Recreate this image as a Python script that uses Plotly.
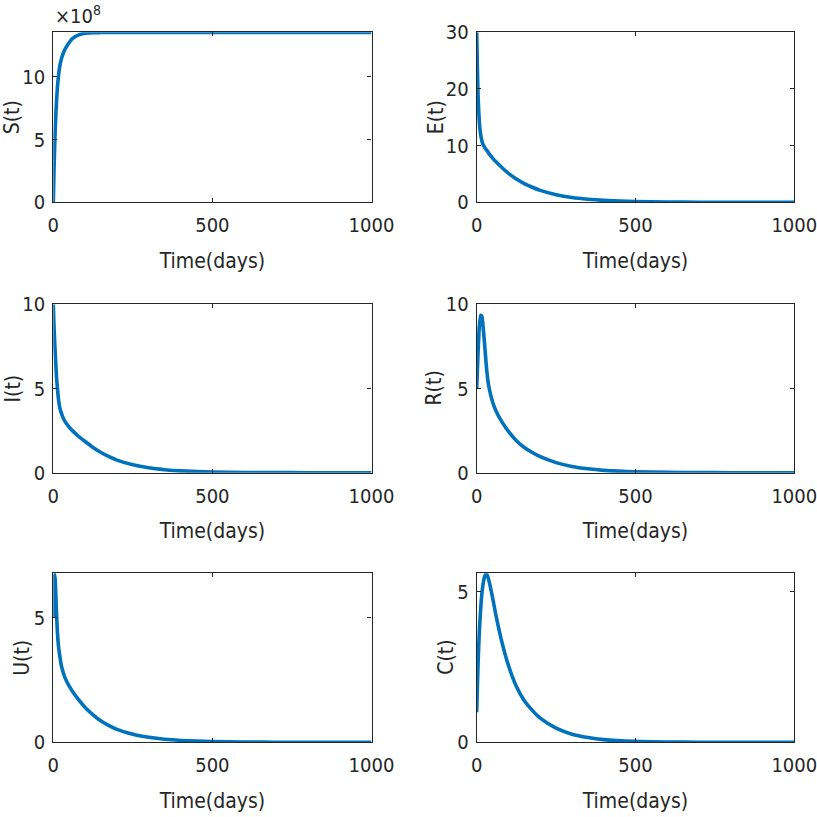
import plotly.graph_objects as go

# time points (days)
T_DAYS = [0, 2, 4, 6, 8, 10, 13, 16, 20, 25, 30, 35, 40, 50, 60, 80, 100,
          125, 150, 175, 200, 250, 300, 350, 400, 500, 600, 700, 800, 900, 1000]

S_VALS = [0, 2.2e8, 4.2e8, 5.8e8, 7.0e8, 8.0e8, 9.2e8, 10.0e8, 10.8e8, 11.4e8,
          11.8e8, 12.1e8, 12.35e8, 12.75e8, 13.05e8, 13.35e8, 13.48e8, 13.53e8,
          13.54e8, 13.55e8, 13.55e8, 13.55e8, 13.55e8, 13.55e8, 13.55e8, 13.55e8,
          13.55e8, 13.55e8, 13.55e8, 13.55e8, 13.55e8]
E_VALS = [30, 24, 19.5, 16.5, 14.5, 13.0, 11.8, 10.9, 10.2, 9.7, 9.3, 8.9, 8.5,
          7.8, 7.2, 6.1, 5.1, 4.1, 3.3, 2.65, 2.1, 1.35, 0.85, 0.54, 0.34, 0.13,
          0.05, 0.02, 0.01, 0.0, 0.0]
I_VALS = [10, 8.8, 7.9, 7.1, 6.4, 5.7, 5.0, 4.4, 3.9, 3.55, 3.3, 3.1, 2.95, 2.7,
          2.5, 2.15, 1.85, 1.5, 1.2, 0.95, 0.75, 0.47, 0.29, 0.18, 0.11, 0.04,
          0.015, 0.005, 0.0, 0.0, 0.0]
R_VALS = [5.0, 6.0, 7.0, 7.9, 8.6, 9.0, 9.35, 9.3, 8.7, 7.6, 6.4, 5.5, 4.95, 4.2,
          3.7, 3.0, 2.45, 1.9, 1.5, 1.2, 0.95, 0.6, 0.37, 0.23, 0.14, 0.05, 0.02,
          0.008, 0.0, 0.0, 0.0]
U_VALS = [5.0, 6.3, 6.75, 6.5, 5.9, 5.2, 4.4, 3.9, 3.5, 3.1, 2.85, 2.65, 2.5,
          2.25, 2.05, 1.7, 1.4, 1.1, 0.85, 0.67, 0.52, 0.32, 0.2, 0.12, 0.075,
          0.028, 0.01, 0.004, 0.0, 0.0, 0.0]
C_VALS = [1.0, 1.8, 2.5, 3.1, 3.6, 4.0, 4.5, 4.9, 5.25, 5.5, 5.6, 5.5, 5.3, 4.8,
          4.25, 3.3, 2.55, 1.85, 1.38, 1.06, 0.8, 0.47, 0.27, 0.16, 0.09, 0.03,
          0.01, 0.004, 0.0, 0.0, 0.0]

X_TICKS = [0, 500, 1000]

# label, values, y tick values, y tick labels, y range
PANELS = [
    ("S(t)", S_VALS, [0, 5e8, 10e8], ["0", "5", "10"], [0, 13.56e8]),
    ("E(t)", E_VALS, [0, 10, 20, 30], ["0", "10", "20", "30"], [0, 30]),
    ("I(t)", I_VALS, [0, 5, 10], ["0", "5", "10"], [0, 10]),
    ("R(t)", R_VALS, [0, 5, 10], ["0", "5", "10"], [0, 10]),
    ("U(t)", U_VALS, [0, 5], ["0", "5"], [0, 6.78]),
    ("C(t)", C_VALS, [0, 5], ["0", "5"], [0, 5.61]),
]

W = H = 817
COL_X = [(53.3, 371.5), (476.7, 794.3)]
ROW_Y = [(32.3, 202.3), (304.3, 472.7), (573.3, 742.3)]
# horizontal centre (px) of each rotated y label, MATLAB puts them by tick width
YLABEL_X = [12, 436, 12, 433, 22, 446]

FONT = "Liberation Sans Narrow, Arial Narrow, DejaVu Sans Condensed, sans-serif"
INK = "#262626"
BLUE = "#0072BD"

fig = go.Figure()
layout = {}

for k, (label, vals, yt, ytt, yr) in enumerate(PANELS):
    row, col = divmod(k, 2)
    n = "" if k == 0 else str(k + 1)
    x0, x1 = COL_X[col]
    ytop, ybot = ROW_Y[row]

    fig.add_trace(go.Scatter(
        x=T_DAYS, y=vals, mode="lines",
        line=dict(color=BLUE, width=3.6, shape="spline", smoothing=0.6),
        xaxis="x" + n, yaxis="y" + n, showlegend=False,
    ))

    common = dict(
        showline=True, linecolor=INK, linewidth=1.2, mirror="ticks",
        ticks="inside", ticklen=4, tickcolor=INK, tickwidth=1,
        showgrid=False, zeroline=False, automargin=False,
        ticklabeloverflow="allow",
        tickfont=dict(family=FONT, size=20, color=INK),
    )
    layout["xaxis" + n] = dict(
        common, domain=[x0 / W, x1 / W], range=[0, 1000],
        tickvals=X_TICKS, ticktext=[str(v) for v in X_TICKS],
        anchor="y" + n, ticklabelstandoff=5,
        title=dict(text="Time(days)", standoff=16,
                   font=dict(family=FONT, size=21, color=INK)),
    )
    layout["yaxis" + n] = dict(
        common, domain=[1 - ybot / H, 1 - ytop / H], range=yr,
        tickvals=yt, ticktext=ytt, anchor="x" + n, ticklabelstandoff=3,
    )

    # y label as rotated annotation
    fig.add_annotation(
        text=label, xref="paper", yref="paper",
        x=YLABEL_X[k] / W, y=1 - (ytop + ybot) / 2 / H,
        xanchor="center", yanchor="middle", textangle=-90,
        showarrow=False, font=dict(family=FONT, size=21, color=INK),
    )

fig.update_layout(
    **layout,
    width=W, height=H,
    margin=dict(l=0, r=0, t=0, b=0),
    paper_bgcolor="white", plot_bgcolor="white",
    showlegend=False,
)

# MATLAB style exponent marker on the S(t) axis
fig.add_annotation(
    text="×10<sup>8</sup>", xref="paper", yref="paper",
    x=53 / W, y=1 - 0 / H, xanchor="left", yanchor="top",
    showarrow=False, font=dict(family=FONT, size=20, color=INK),
)

# page body margin off so the 817px figure fills the window exactly
fig.write_html(
    "out.html",
    config={"displayModeBar": False},
    post_script="document.body.style.margin='0px';",
)
